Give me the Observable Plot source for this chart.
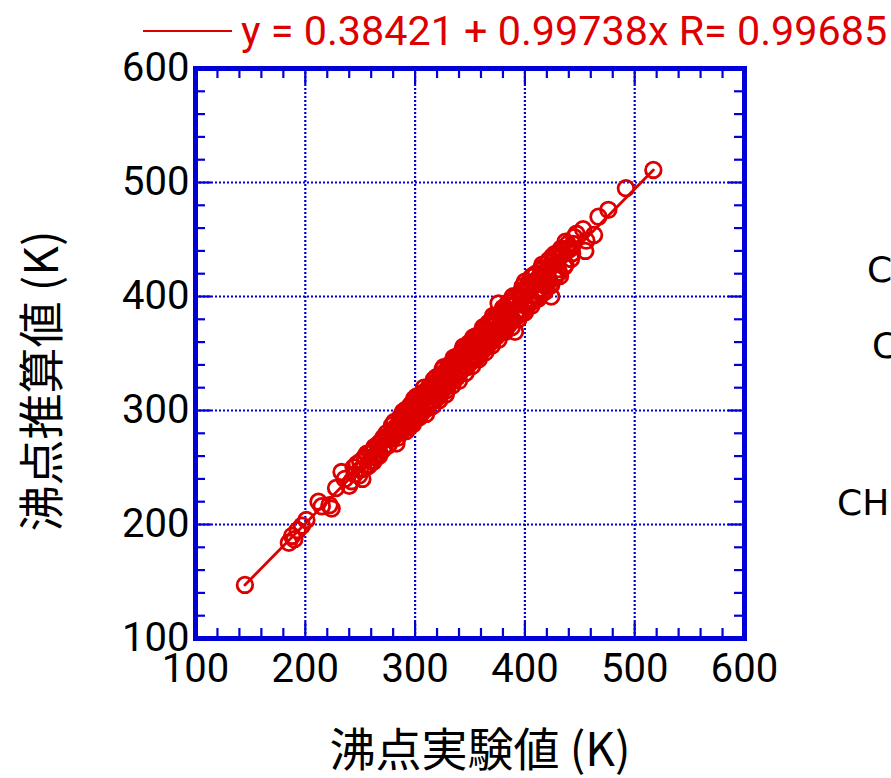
<!DOCTYPE html>
<html><head><meta charset="utf-8">
<script src="https://cdn.jsdelivr.net/npm/d3@7"></script>
<script src="https://cdn.jsdelivr.net/npm/@observablehq/plot@0.6"></script>
<style>body{margin:0;background:#fff;overflow:hidden;}</style>
</head><body><div id="chart"></div>
<script>
// Experimental boiling point (K)
const bpExp = [
145,185,188,190,193,197,201,212,215,222,224,228,233,236,240,242,245,247,250,252,255,257,260,262,264,266,268,270,272,274,276,278,280,282,284,
286,287,288,289,290,291,292,293,294,295,296,297,298,299,300,301,302,303,304,305,306,307,308,309,310,311,312,313,314,315,316,317,318,319,320,
321,322,323,324,325,326,327,328,329,330,331,332,333,334,335,336,337,338,339,340,341,342,343,344,345,346,347,348,349,350,351,352,353,354,355,
356,357,358,359,360,361,362,363,364,365,366,367,368,369,370,371,372,373,374,375,376,378,380,381,382,384,385,386,388,389,390,392,393,395,396,
398,399,400,402,403,405,407,408,410,412,413,415,417,419,421,423,425,427,430,
250,253,256,259,262,265,268,271,274,277,280,283,285,288,291,294,297,300,303,306,309,312,315,318,321,324,327,330,333,336,339,342,345,348,351,
354,357,360,363,366,369,372,375,378,381,384,387,390,393,396,399,402,405,408,411,414,417,420,423,426,429,432,435,438,441,444,
376,391,400,406,410,415,422,428,433,437,440,443,445,447,453,455,456,463,467,476,492,517,424,436,432,
284,287,293,296,299,302,305,308,311,314,317,320,323,326,329,332,335,338,341,344,347,350,353,356,359,362,365,368,371,374,377,380,383,386,389,
392,395,398,401,404,407,410,413,416,419,422,425,428,
281,283,286,289,292,295,298,301,304,307,310,313,316,319,322,325,328,331,334,337,340,343,346,349,352,355,358,361,364,367,370,373,376,379,382,
385,388,391,394,397,400,403,406,409,412,415,418,421,424,427,431,434,437,439,442,
244,249,254,258,263,267,271,275,279
];
// Estimated boiling point (K)
const bpCalc = [
147,184,190,187,195,199,204,220,216,217,214,232,246,240,234,238,244,253,248,240,258,251,263,255,259,270,262,273,268,277,270,280,276,285,280,
291,281,296,284,293,286,301,289,297,290,305,292,294,307,297,293,309,300,298,312,302,299,316,305,303,317,308,306,320,310,309,321,313,312,326,
316,314,330,319,318,333,322,321,336,325,324,339,328,326,341,331,330,345,334,333,348,337,336,351,340,339,355,343,342,357,346,344,360,349,347,
363,352,350,366,355,352,369,358,355,372,361,358,375,364,362,378,366,364,381,369,367,384,373,370,388,377,375,392,381,379,397,385,383,401,389,
387,404,394,391,409,398,396,413,402,400,417,407,405,422,412,410,427,417,424,
255,249,262,256,266,262,272,266,280,275,283,279,288,290,297,292,300,303,305,308,311,313,317,320,322,327,329,331,336,338,341,344,347,351,352,
356,360,362,365,369,370,375,377,380,383,387,388,392,396,398,400,405,406,410,414,416,419,421,426,428,430,436,437,441,443,446,
394,369,413,417,420,425,432,435,442,448,441,438,452,455,459,440,449,454,470,476,495,511,400,426,418,
276,295,285,288,310,296,299,320,302,309,327,311,316,338,318,325,346,329,334,356,338,342,364,346,351,373,356,360,383,365,370,390,374,379,400,
382,387,409,392,398,418,399,405,428,409,415,435,418,
290,271,283,299,282,303,288,312,294,315,297,321,304,329,309,336,314,340,322,347,326,353,333,359,339,365,345,370,351,377,357,382,362,387,369,
395,373,399,380,405,386,412,392,419,398,423,404,430,410,437,421,440,428,446,433,
250,243,259,252,268,260,276,269,287
];
// Fitted regression line end points
const fitX = [145, 517];
const fitY = [147, 511];
// Axis ticks
const majorTicks = [100, 200, 300, 400, 500, 600];
const minorTicks = [120,140,160,180,220,240,260,280,320,340,360,380,420,440,460,480,520,540,560,580];
// Texts
const xLabel = "沸点実験値 (K)";
const yLabel = "沸点推算値 (K)";
const legendText = "y = 0.38421 + 0.99738x R= 0.99685";
const sideTexts = ["C", "C", "CH"];

const points = bpExp.map((x, i) => ({x, y: bpCalc[i]}));
const fit = fitX.map((x, i) => ({x, y: fitY[i]}));

const W = 891, H = 778;
const mL = 195, mR = 147, mT = 68, mB = 140;
const pw = W - mL - mR, ph = H - mT - mB;
const blue = "#0000d8", red = "#dd0000";
const numFont = "Roboto, 'Liberation Sans', sans-serif";
const jpFont = "'Noto Sans CJK JP', sans-serif";
const minorLen = 10, majorLen = 16;

const chart = Plot.plot({
  width: W, height: H,
  marginLeft: mL, marginRight: mR, marginTop: mT, marginBottom: mB,
  x: {domain: [100, 600]},
  y: {domain: [100, 600]},
  style: {background: "#fff", overflow: "visible"},
  marks: [
    Plot.gridX(majorTicks.slice(1, -1), {stroke: blue, strokeOpacity: 1, strokeWidth: 2.2, strokeDasharray: "2,2"}),
    Plot.gridY(majorTicks.slice(1, -1), {stroke: blue, strokeOpacity: 1, strokeWidth: 2.2, strokeDasharray: "2,2"}),
    Plot.tickX(minorTicks, {x: d => d, insetTop: ph - minorLen, stroke: blue, strokeWidth: 2.2}),
    Plot.tickX(minorTicks, {x: d => d, insetBottom: ph - minorLen, stroke: blue, strokeWidth: 2.2}),
    Plot.tickY(minorTicks, {y: d => d, insetRight: pw - minorLen, stroke: blue, strokeWidth: 2.2}),
    Plot.tickY(minorTicks, {y: d => d, insetLeft: pw - minorLen, stroke: blue, strokeWidth: 2.2}),
    Plot.tickX(majorTicks, {x: d => d, insetTop: ph - majorLen, stroke: blue, strokeWidth: 2.2}),
    Plot.tickX(majorTicks, {x: d => d, insetBottom: ph - majorLen, stroke: blue, strokeWidth: 2.2}),
    Plot.tickY(majorTicks, {y: d => d, insetRight: pw - majorLen, stroke: blue, strokeWidth: 2.2}),
    Plot.tickY(majorTicks, {y: d => d, insetLeft: pw - majorLen, stroke: blue, strokeWidth: 2.2}),
    Plot.frame({stroke: blue, strokeWidth: 5}),
    Plot.line(fit, {x: "x", y: "y", stroke: red, strokeWidth: 2.8}),
    Plot.dot(points, {x: "x", y: "y", r: 7.8, stroke: red, strokeWidth: 2.8, fill: "none"}),
    Plot.axisX({ticks: majorTicks, tickSize: 0, tickPadding: 15, label: null, fontSize: 40, fontFamily: numFont, fill: "#000"}),
    Plot.axisY({ticks: majorTicks, tickSize: 0, tickPadding: 6, label: null, fontSize: 40, fontFamily: numFont, fill: "#000"})
  ]
});

const svg = d3.select(chart);
svg.append("line").attr("x1", 143).attr("x2", 232).attr("y1", 31).attr("y2", 31)
  .attr("stroke", red).attr("stroke-width", 2.2);
svg.append("text").attr("x", 241).attr("y", 45).attr("fill", red).attr("text-anchor", "start")
  .attr("font-family", numFont).attr("font-size", 41.3).text(legendText);
svg.append("text").attr("x", 480).attr("y", 766).attr("text-anchor", "middle")
  .attr("font-family", jpFont).attr("font-size", 46).attr("fill", "#000").text(xLabel);
svg.append("text").attr("transform", "translate(58,381) rotate(-90)").attr("text-anchor", "middle")
  .attr("font-family", jpFont).attr("font-size", 46).attr("fill", "#000").text(yLabel);
const sidePos = [[867, 282], [872, 358], [837, 515]];
sideTexts.forEach((t, i) => {
  svg.append("text").attr("x", sidePos[i][0]).attr("y", sidePos[i][1]).attr("text-anchor", "start")
    .attr("font-family", "'DejaVu Sans', sans-serif").attr("font-size", 36).attr("fill", "#000").text(t);
});
document.getElementById("chart").appendChild(chart);
</script>
</body></html>
